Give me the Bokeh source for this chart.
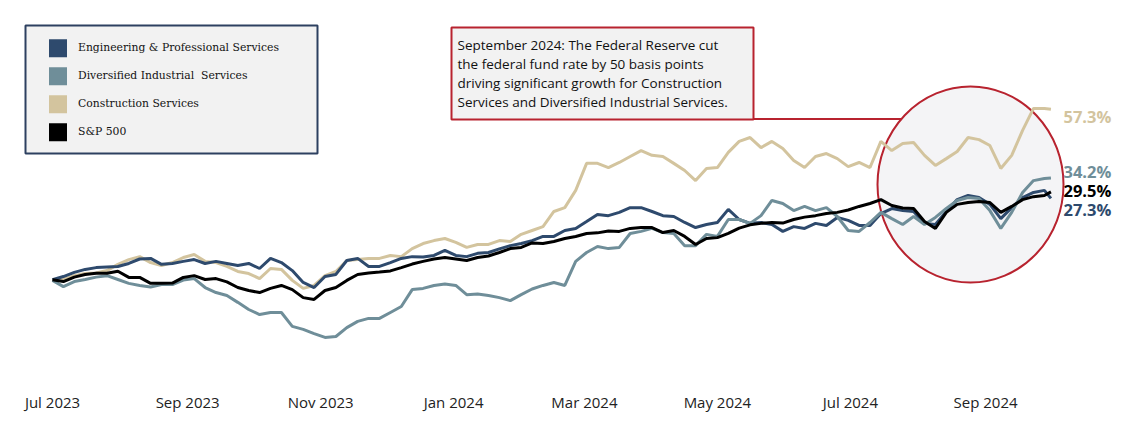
import pandas as pd
from bokeh.plotting import figure
from bokeh.models import (Range1d, FixedTicker, DatetimeTickFormatter, BoxAnnotation,
                          Label, Legend, LegendItem, ColumnDataSource)
from bokeh.embed import file_html
from bokeh.resources import INLINE

# ---------------- data (cumulative return, %) ----------------
dates = list(pd.date_range("2023-07-01", periods=92, freq="5D")) + [pd.Timestamp("2024-10-01")]

series_names = ["Engineering & Professional Services", "Diversified Industrial  Services",
                "Construction Services", "S&P 500"]

eng = [-0.1, 1.0, 2.4, 3.4, 4.0, 4.2, 4.4, 5.4, 6.9, 7.1,
       5.1, 5.4, 6.1, 6.7, 5.4, 6.1, 5.4, 4.7, 5.4, 3.7,
       7.1, 5.7, 3.0, -1.0, -2.7, 1.0, 1.7, 6.4, 7.1, 4.4,
       4.4, 5.7, 7.1, 7.7, 7.6, 8.1, 9.8, 8.1, 7.7, 8.8,
       9.1, 10.3, 11.4, 12.1, 13.1, 14.5, 14.5, 16.5, 17.2, 19.5,
       21.9, 21.5, 22.6, 24.2, 24.2, 22.9, 21.5, 21.2, 19.2, 17.5,
       18.5, 19.2, 23.6, 20.2, 18.9, 19.2, 18.5, 16.2, 17.8, 17.2,
       18.9, 18.2, 20.9, 19.9, 18.2, 18.2, 22.2, 23.9, 23.2, 22.9,
       18.9, 18.5, 22.9, 26.9, 28.3, 27.6, 25.3, 20.5, 24.2, 27.6,
       29.3, 30.0, 27.3]

div = [-0.3, -2.4, -0.7, 0.0, 0.8, 1.3, 0.0, -1.3, -2.0, -2.5,
       -1.7, -1.7, -0.2, 0.3, -2.7, -4.4, -5.4, -7.7, -10.1, -11.8,
       -11.1, -11.1, -15.8, -16.8, -18.2, -19.5, -19.2, -16.2, -14.1, -13.1,
       -13.1, -11.1, -9.1, -3.4, -3.0, -2.0, -1.5, -2.0, -5.1, -4.9,
       -5.4, -6.1, -7.1, -5.1, -3.2, -2.0, -1.0, -2.0, 6.1, 9.1,
       11.1, 10.4, 10.8, 15.5, 16.2, 17.2, 15.8, 15.5, 11.4, 11.4,
       15.2, 14.5, 20.2, 20.2, 18.9, 21.5, 26.6, 25.6, 23.2, 24.6,
       23.2, 24.2, 21.2, 16.5, 16.2, 19.2, 22.6, 20.5, 18.5, 21.2,
       18.5, 20.9, 23.9, 26.6, 27.6, 27.3, 23.2, 17.2, 22.6, 29.3,
       33.3, 34.0, 34.2]

con = [-0.1, 0.0, 1.3, 2.0, 2.2, 3.0, 5.1, 6.7, 7.7, 5.7,
       4.7, 5.7, 7.4, 8.4, 6.1, 5.7, 4.4, 2.7, 2.0, 0.3,
       3.7, 3.4, -0.3, -3.0, -2.0, 1.3, 2.7, 6.4, 6.7, 7.1,
       7.1, 8.1, 7.7, 10.4, 12.1, 13.1, 13.8, 12.5, 10.8, 11.8,
       11.8, 13.1, 12.8, 15.2, 16.5, 17.8, 22.9, 24.2, 30.0, 39.1,
       39.1, 37.7, 39.4, 41.4, 43.4, 41.8, 41.4, 39.1, 36.7, 33.3,
       37.4, 37.7, 42.8, 46.5, 47.8, 44.4, 46.5, 44.1, 40.1, 37.7,
       41.4, 42.4, 40.7, 38.0, 39.4, 37.7, 46.5, 43.4, 45.8, 46.1,
       41.8, 38.4, 40.7, 43.1, 47.8, 47.1, 45.1, 37.4, 41.8, 50.2,
       57.6, 57.6, 57.3]

spx = [-0.1, -0.7, 0.8, 1.7, 2.1, 2.1, 2.8, 0.7, 0.7, -1.3,
       -1.3, -1.2, 0.7, 1.3, 0.0, 0.3, -0.8, -2.7, -3.7, -4.4,
       -3.0, -2.0, -3.4, -6.1, -6.7, -3.7, -2.7, -0.3, 1.7, 2.2,
       2.5, 2.9, 4.0, 5.2, 6.1, 6.9, 7.4, 6.9, 6.4, 7.4,
       7.9, 9.1, 10.4, 10.8, 12.3, 12.1, 12.8, 13.8, 14.5, 15.5,
       15.7, 16.3, 16.2, 17.2, 17.5, 17.5, 15.8, 16.5, 14.5, 11.8,
       13.8, 14.1, 15.5, 17.3, 18.4, 18.9, 19.2, 19.0, 20.2, 21.0,
       21.5, 22.2, 22.6, 23.4, 24.6, 25.6, 26.9, 24.9, 24.1, 23.9,
       19.5, 17.2, 22.6, 25.3, 25.9, 26.3, 25.9, 22.6, 24.6, 26.9,
       27.9, 28.3, 29.5]

tick_dates = ["2023-07-01", "2023-09-01", "2023-11-01", "2024-01-01",
              "2024-03-01", "2024-05-01", "2024-07-01", "2024-09-01"]

end_labels = ["57.3%", "34.2%", "29.5%", "27.3%"]

note_lines = ["September 2024: The Federal Reserve cut",
              "the federal fund rate by 50 basis points",
              "driving significant growth for Construction",
              "Services and Diversified Industrial Services."]

# ---------------- styling ----------------
C_ENG = "#2e4a6d"
C_DIV = "#6f8e99"
C_CON = "#d3c49e"
C_SPX = "#000000"
RED = "#b8232f"

# pixel <-> data mapping (layout only)
T0_MS = pd.Timestamp("2023-07-01").value / 1e6
X0_PX, PX_PER_DAY = 52, 2.18
Y0_PX, PX_PER_PCT = 279, 2.97
DAY_MS = 86400000.0


def xd(px):
    return T0_MS + (px - X0_PX) / PX_PER_DAY * DAY_MS


def yd(py):
    return (Y0_PX - py) / PX_PER_PCT


FL, FR, FT, FB = 20, 1128, 8, 390

p = figure(frame_width=FR - FL, frame_height=FB - FT, x_axis_type="datetime",
           x_range=Range1d(xd(FL), xd(FR)), y_range=Range1d(yd(FB), yd(FT)),
           output_backend="svg", toolbar_location=None, y_axis_location=None,
           min_border_left=FL, min_border_right=0, min_border_top=FT, min_border_bottom=0,
           outline_line_color=None, background_fill_color="white", border_fill_color="white")
p.grid.visible = False

# callout connector + circle highlight
p.segment(x0=[xd(753)], y0=[yd(118.5)], x1=[xd(915)], y1=[yd(118.5)],
          line_color=RED, line_width=2)
p.ellipse(x=[xd(970)], y=[yd(184)], width=186, height=196,
          width_units="screen", height_units="screen",
          fill_color="#f4f4f6", line_color=RED, line_width=2)

src = ColumnDataSource(dict(date=dates, eng=eng, div=div, con=con, spx=spx))
r_con = p.line("date", "con", source=src, line_color=C_CON, line_width=3)
r_eng = p.line("date", "eng", source=src, line_color=C_ENG, line_width=3)
r_div = p.line("date", "div", source=src, line_color=C_DIV, line_width=3)
r_spx = p.line("date", "spx", source=src, line_color=C_SPX, line_width=3)

# x axis
ax = p.xaxis[0]
ax.ticker = FixedTicker(ticks=[pd.Timestamp(d).value / 1e6 for d in tick_dates])
fmt = "%b %Y"
ax.formatter = DatetimeTickFormatter(days=fmt, months=fmt, years=fmt)
ax.axis_line_color = None
ax.major_tick_line_color = None
ax.minor_tick_line_color = None
ax.major_tick_out = 0
ax.major_tick_in = 0
ax.major_label_standoff = 1
ax.major_label_text_font = "Open Sans"
ax.major_label_text_font_size = "15px"
ax.major_label_text_color = "#222222"

# end labels
label_cols = [C_CON, C_DIV, C_SPX, C_ENG]
label_py = [116, 171, 190, 209]
for t, c, py in zip(end_labels, label_cols, label_py):
    p.add_layout(Label(x=xd(1063), y=yd(py), text=t, text_color=c,
                       text_font="Open Sans", text_font_style="bold",
                       text_font_size="16.5px", text_baseline="middle"))

# callout box
p.add_layout(BoxAnnotation(left=xd(451), right=xd(753), top=yd(27), bottom=yd(119),
                           fill_color="#f2f2f2", fill_alpha=1.0,
                           line_color=RED, line_width=2, line_alpha=1.0))
for i, t in enumerate(note_lines):
    p.add_layout(Label(x=xd(457), y=yd(44.5 + 19 * i), text=t, text_color="#111111",
                       text_font="Open Sans", text_font_size="13.5px",
                       text_baseline="middle"))

# legend box + legend (square swatches drawn over the legend glyphs)
p.add_layout(BoxAnnotation(left=xd(25), right=xd(317), top=yd(25), bottom=yd(153),
                           fill_color="#f2f2f2", fill_alpha=1.0,
                           line_color="#2d4060", line_width=2, line_alpha=1.0))
renderers = [r_eng, r_div, r_con, r_spx]
colors = [C_ENG, C_DIV, C_CON, C_SPX]
items = [LegendItem(label=n, renderers=[r]) for n, r in zip(series_names, renderers)]
LEG_TOP = 37.7
legend = Legend(items=items, location=(49 - FL, FB - (LEG_TOP + 4 * 20 + 3 * 8)),
                glyph_width=17, glyph_height=20, label_height=20,
                spacing=8, padding=0, margin=0, label_standoff=12,
                background_fill_alpha=0, border_line_alpha=0,
                label_text_font="DejaVu Serif", label_text_font_size="10.8px",
                label_text_color="#111111")
p.add_layout(legend)
for i, c in enumerate(colors):
    cy = LEG_TOP + 10 + 28 * i
    p.add_layout(BoxAnnotation(left=xd(48.5), right=xd(66.5), top=yd(cy - 9), bottom=yd(cy + 9),
                               fill_color=c, fill_alpha=1.0, line_color=None))

open("out.html", "w").write(file_html(p, INLINE))
